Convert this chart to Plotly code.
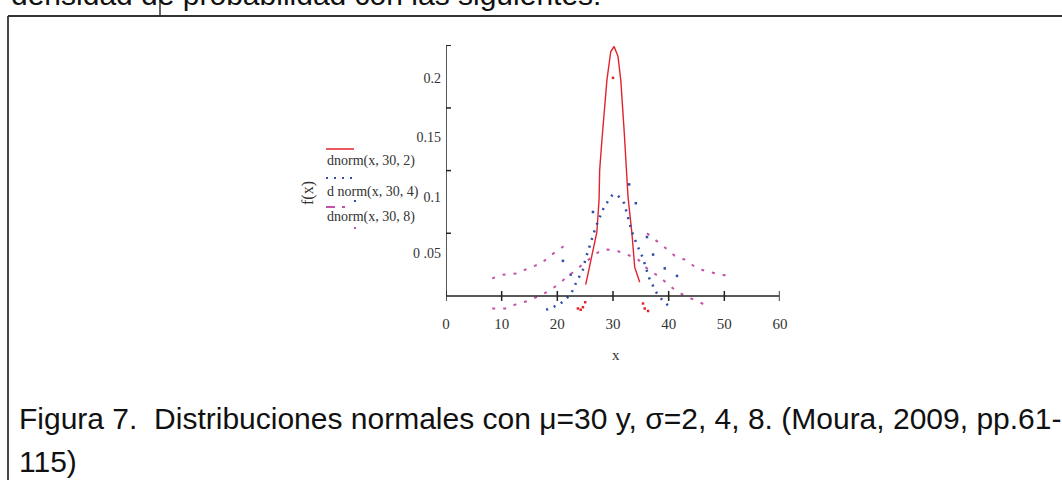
import plotly.graph_objects as go

# ---- data ----
red_x = [25.1, 25.8, 27.1, 27.5, 27.6, 28.0, 28.4, 28.9, 29.6, 30.2, 30.9, 31.4, 32.0, 32.5, 32.7, 33.4, 33.9, 34.8]
red_y = [0.009, 0.023, 0.051, 0.077, 0.100, 0.124, 0.146, 0.172, 0.195, 0.199, 0.191, 0.172, 0.132, 0.100, 0.079, 0.050, 0.023, 0.011]
red_frag_x = [23.7, 24.2, 24.6, 25.0, 30.0, 35.4, 35.7, 36.3]
red_frag_y = [-0.010, -0.011, -0.009, -0.005, 0.174, -0.006, -0.010, -0.012]

blue_x = [18.0, 19.2, 20.6, 21.6, 22.4, 23.2, 24.6, 25.1, 25.5, 26.2, 26.9, 28.2, 29.4, 30.0, 30.9, 32.0, 32.5, 33.4, 34.3, 35.3, 36.6, 37.9, 39.0, 40.5]
blue_y = [-0.011, -0.009, -0.006, -0.002, 0.001, 0.009, 0.021, 0.030, 0.036, 0.045, 0.055, 0.069, 0.078, 0.081, 0.080, 0.074, 0.066, 0.051, 0.041, 0.031, 0.013, 0.002, -0.004, -0.010]
blue_frag_x = [26.4, 32.9, 34.1, 36.1, 37.2, 39.3, 41.5, 22.4, 21.0]
blue_frag_y = [0.067, 0.089, 0.074, 0.047, 0.033, 0.022, 0.016, 0.017, 0.028]

mag_x = [8.3, 10.9, 12.9, 14.7, 17.2, 18.9, 20.6, 22.8, 25.9, 27.7, 29.0, 30.7, 32.5, 34.3, 36.1, 38.4, 40.8, 42.9, 45.1, 47.4]
mag_y = [-0.010, -0.010, -0.006, -0.004, 0.001, 0.005, 0.011, 0.019, 0.030, 0.036, 0.037, 0.036, 0.033, 0.030, 0.022, 0.015, 0.006, 0.000, -0.004, -0.009]
mag_left_x = [8.3, 10.2, 12.9, 14.7, 17.1, 19.0, 21.9]
mag_left_y = [0.014, 0.017, 0.018, 0.022, 0.026, 0.033, 0.042]
mag_right_x = [36.1, 37.9, 39.5, 41.1, 42.9, 45.1, 47.4, 49.6, 51.5]
mag_right_y = [0.050, 0.044, 0.038, 0.032, 0.029, 0.022, 0.019, 0.017, 0.015]

x_ticks = [0, 10, 20, 30, 40, 50, 60]
y_ticks = [0.05, 0.1, 0.15, 0.2]
y_label_pos = [0.034, 0.079, 0.127, 0.174]
y_label_text = ["0 .05", "0.1", "0.15", "0.2"]
legend_labels = ["dnorm(x, 30, 2)", "d norm(x, 30, 4)", "dnorm(x, 30, 8)"]

RED = "#e3232b"
BLUE = "#2d4ea6"
MAG = "#c552a8"
AX = "#222222"
SERIF = "Liberation Serif"
SANS = "Liberation Sans"

# pixel -> paper helpers (plot area: x 446..780, y 45..311)
L, R, T, B = 446, 780, 45, 311
def pxx(p):
    return (p - L) / (R - L)
def pxy(p):
    return (B - p) / (B - T)

fig = go.Figure()
fig.add_trace(go.Scatter(x=red_x, y=red_y, mode="lines", line=dict(color=RED, width=1.4), cliponaxis=False))
fig.add_trace(go.Scatter(x=red_frag_x, y=red_frag_y, mode="markers", marker=dict(color=RED, size=2.5, symbol="square"), cliponaxis=False))
fig.add_trace(go.Scatter(x=blue_x, y=blue_y, mode="lines", line=dict(color=BLUE, width=2.5, dash="2px,6px"), cliponaxis=False))
fig.add_trace(go.Scatter(x=blue_frag_x, y=blue_frag_y, mode="markers", marker=dict(color=BLUE, size=2.5, symbol="square"), cliponaxis=False))
fig.add_trace(go.Scatter(x=mag_x, y=mag_y, mode="lines", line=dict(color=MAG, width=2, dash="3px,8px"), cliponaxis=False))
fig.add_trace(go.Scatter(x=mag_left_x, y=mag_left_y, mode="lines", line=dict(color=MAG, width=2, dash="3px,8px"), cliponaxis=False))
fig.add_trace(go.Scatter(x=mag_right_x, y=mag_right_y, mode="lines", line=dict(color=MAG, width=2, dash="3px,8px"), cliponaxis=False))

shapes = []
# axis lines
shapes.append(dict(type="line", xref="x", yref="y", x0=0, x1=60, y0=0, y1=0, line=dict(color=AX, width=1.5)))
shapes.append(dict(type="line", xref="x", yref="y", x0=0, x1=0, y0=0, y1=0.2, line=dict(color=AX, width=1.5)))
for xv in x_ticks:
    shapes.append(dict(type="line", xref="x", yref="y", x0=xv, x1=xv, y0=-0.004, y1=0.004,
                       line=dict(color=AX if xv < 60 else "#666", width=1.5 if xv < 60 else 2.5)))
for yv in y_ticks:
    shapes.append(dict(type="line", xref="x", yref="y", x0=-0.9, x1=0.9, y0=yv, y1=yv, line=dict(color=AX, width=1.5)))

# page frame
shapes.append(dict(type="line", xref="paper", yref="paper", x0=pxx(8), x1=pxx(1070), y0=pxy(16), y1=pxy(16), line=dict(color="#333", width=1.8)))
shapes.append(dict(type="line", xref="paper", yref="paper", x0=pxx(8), x1=pxx(8), y0=pxy(16), y1=pxy(490), line=dict(color="#333", width=1.8)))
shapes.append(dict(type="line", xref="paper", yref="paper", x0=pxx(160), x1=pxx(160), y0=pxy(-2), y1=pxy(16), line=dict(color="#333", width=1.5)))

# legend samples
shapes.append(dict(type="line", xref="paper", yref="paper", x0=pxx(326), x1=pxx(354), y0=pxy(149), y1=pxy(149), line=dict(color=RED, width=1.5)))
shapes.append(dict(type="line", xref="paper", yref="paper", x0=pxx(326), x1=pxx(352), y0=pxy(178), y1=pxy(178), line=dict(color=BLUE, width=2, dash="2px,6px")))
shapes.append(dict(type="line", xref="paper", yref="paper", x0=pxx(354), x1=pxx(356), y0=pxy(201), y1=pxy(201), line=dict(color=BLUE, width=2)))
shapes.append(dict(type="line", xref="paper", yref="paper", x0=pxx(326), x1=pxx(335), y0=pxy(207), y1=pxy(207), line=dict(color=MAG, width=2)))
shapes.append(dict(type="line", xref="paper", yref="paper", x0=pxx(342), x1=pxx(345), y0=pxy(207), y1=pxy(207), line=dict(color=MAG, width=2)))
shapes.append(dict(type="line", xref="paper", yref="paper", x0=pxx(354), x1=pxx(356), y0=pxy(228), y1=pxy(228), line=dict(color=MAG, width=2)))

annotations = []
for lab, yp in zip(legend_labels, [161, 192, 217]):
    annotations.append(dict(text=lab, xref="paper", yref="paper", x=pxx(325), y=pxy(yp), xanchor="left", yanchor="middle",
                            showarrow=False, font=dict(family=SERIF, size=14, color="#333")))
annotations.append(dict(text="f(x)", xref="paper", yref="paper", x=pxx(308), y=pxy(193), textangle=-90,
                        xanchor="center", yanchor="middle", showarrow=False, font=dict(family=SERIF, size=16, color="#333")))
annotations.append(dict(text="x", xref="paper", yref="paper", x=pxx(616), y=pxy(355), xanchor="center", yanchor="middle",
                        showarrow=False, font=dict(family=SERIF, size=15, color="#333")))
annotations.append(dict(text="densidad de probabilidad con las siguientes:", xref="paper", yref="paper", x=pxx(9), y=pxy(-5),
                        xanchor="left", yanchor="middle", showarrow=False, font=dict(family=SANS, size=30, color="#111")))
annotations.append(dict(text="Figura 7.\u00a0 Distribuciones normales con \u03bc=30 y, \u03c3=2, 4, 8. (Moura, 2009, pp.61-",
                        xref="paper", yref="paper", x=pxx(17), y=pxy(419), xanchor="left", yanchor="middle",
                        showarrow=False, font=dict(family=SANS, size=30, color="#111")))
annotations.append(dict(text="115)", xref="paper", yref="paper", x=pxx(17), y=pxy(461), xanchor="left", yanchor="middle",
                        showarrow=False, font=dict(family=SANS, size=30, color="#111")))

fig.update_layout(
    width=1062, height=480,
    margin=dict(l=L, r=1062 - R, t=T, b=480 - B, pad=0),
    paper_bgcolor="white", plot_bgcolor="white",
    showlegend=False,
    shapes=shapes, annotations=annotations,
    xaxis=dict(range=[0, 60], tickvals=x_ticks, ticktext=[str(v) for v in x_ticks], showgrid=False, zeroline=False,
               showline=False, ticks="", tickfont=dict(family=SERIF, size=15, color="#333"), ticklabelstandoff=2),
    yaxis=dict(range=[-0.012, 0.2002], tickvals=y_label_pos, ticktext=y_label_text, showgrid=False, zeroline=False,
               showline=False, ticks="", tickfont=dict(family=SERIF, size=14, color="#333"), ticklabelstandoff=4),
)
fig.write_html("out.html", config={"displayModeBar": False},
               post_script="document.body.style.margin='0';document.body.style.overflow='hidden';")
